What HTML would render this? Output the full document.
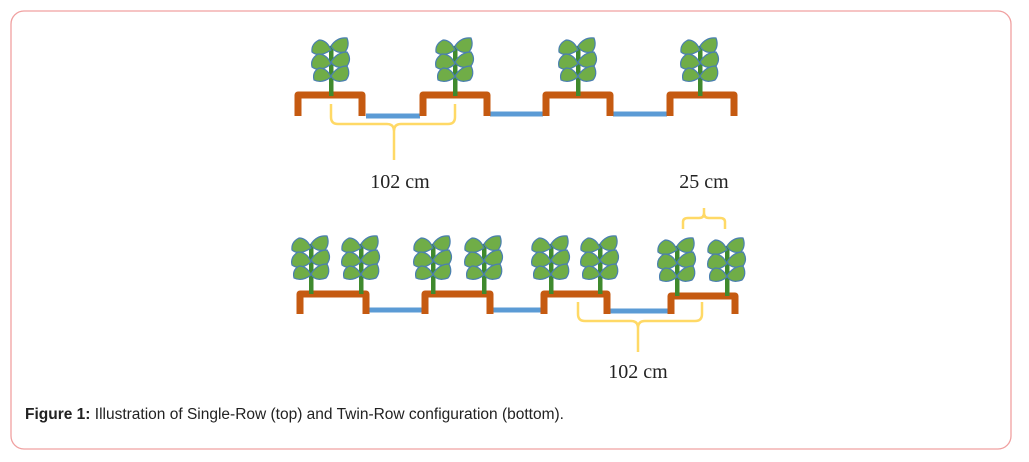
<!DOCTYPE html>
<html><head><style>
body{margin:0;background:#fff;width:1029px;height:462px;overflow:hidden}
svg{position:absolute;left:0;top:0}
.cap{position:absolute;left:25px;top:406px;font:15.5px "Liberation Sans",Arial,sans-serif;color:#222}
</style></head><body>
<svg width="1029" height="462">
<defs>
<g id="p">
<rect x="-2" y="-46" width="4.5" height="50" fill="#3f8a2e"/>
<g fill="#70ad47" stroke="#4a7fb0" stroke-width="1.2">
<path d="M0 -42 Q-4 -52 -12 -52 Q-20 -48 -19 -40 Q-12 -34 0 -42Z"/>
<path d="M0 -46 Q6 -55 16 -54 Q19 -46 14 -40 Q4 -38 0 -46Z"/>
<path d="M0 -28 Q-4 -38 -13 -38 Q-21 -33 -19 -25 Q-11 -19 0 -28Z"/>
<path d="M0 -30 Q6 -40 16 -40 Q21 -33 16 -26 Q5 -22 0 -30Z"/>
<path d="M0 -15 Q-4 -24 -12 -24 Q-19 -20 -17 -12 Q-9 -8 0 -15Z"/>
<path d="M0 -16 Q6 -26 16 -26 Q20 -18 15 -12 Q4 -8 0 -16Z"/>
</g>
</g>
</defs>
<rect x="11" y="11" width="1000" height="438" rx="13" fill="none" stroke="#f0a0a0" stroke-width="1.3"/>
<g fill="none" stroke-linejoin="round" stroke-linecap="butt">
<g stroke="#5b9bd5" stroke-width="5">
<path d="M366 116H420M490 114H543M613 114H667"/>
<path d="M369 310H422M493 310H541M610 311H668"/>
</g>
<g stroke="#c55a11" stroke-width="7">
<path d="M298 116V95H362V116"/><path d="M423 116V95H487V116"/><path d="M546 116V95H610V116"/><path d="M670 116V95H734V116"/>
<path d="M300 314V294H366V314"/><path d="M425 314V294H490V314"/><path d="M544 314V294H607V314"/><path d="M671 314V296H735V314"/>
</g>
<g stroke="#ffd966" stroke-width="2.5">
<path d="M331 104V117Q331 124 338 124H387Q394 124 394 131V160M394 131Q394 124 401 124H448Q455 124 455 117V104"/>
<path d="M578 302V314Q578 321 585 321H631Q638 321 638 328V352M638 328Q638 321 645 321H695Q702 321 702 314V302"/>
<path d="M683 229V222Q683 218 688 218H699Q704 218 704 213V208M704 213Q704 218 709 218H720Q725 218 725 222V229"/>
</g>
</g>
<use href="#p" x="331" y="92"/><use href="#p" x="455" y="92"/><use href="#p" x="578" y="92"/><use href="#p" x="700" y="92"/>
<use href="#p" x="311" y="290"/><use href="#p" x="361" y="290"/><use href="#p" x="433" y="290"/><use href="#p" x="484" y="290"/>
<use href="#p" x="551" y="290"/><use href="#p" x="600" y="290"/><use href="#p" x="677" y="292"/><use href="#p" x="727" y="292"/>
<g font-family="Liberation Serif,serif" font-size="20" fill="#222" text-anchor="middle">
<text x="400" y="188">102 cm</text>
<text x="704" y="188">25 cm</text>
<text x="638" y="378">102 cm</text>
</g>
</svg>
<div class="cap"><b>Figure 1:</b> Illustration of Single-Row (top) and Twin-Row configuration (bottom).</div>
</body></html>
